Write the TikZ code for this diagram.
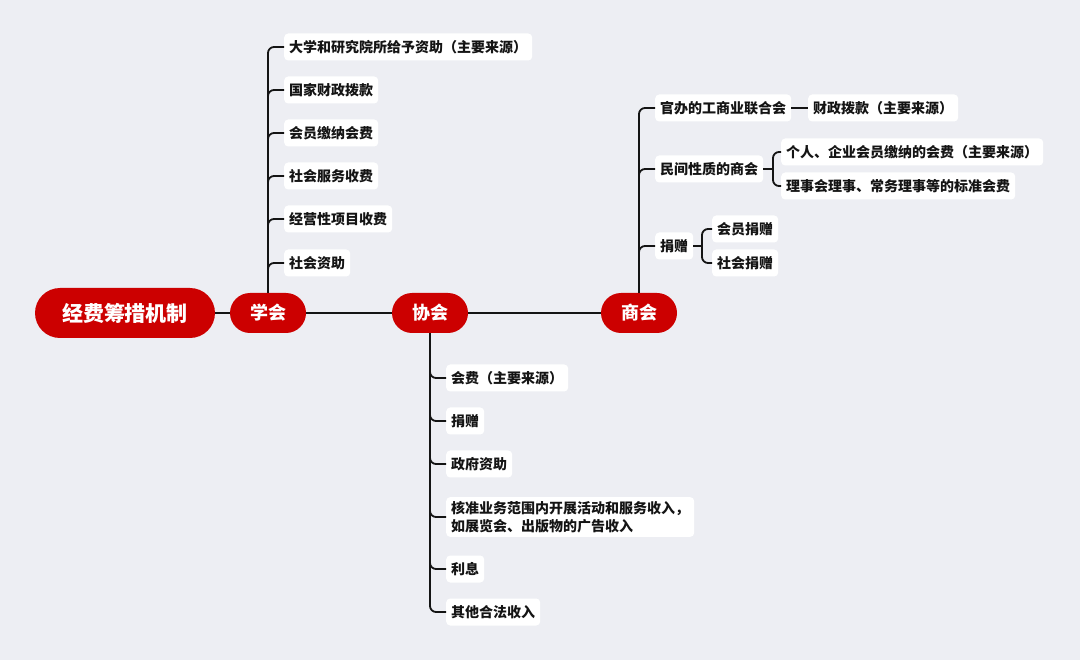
\documentclass[tikz,border=0pt]{standalone}
\usepackage{fontspec}
\setmainfont{Noto Sans CJK SC}
\definecolor{bg}{RGB}{237,238,243}
\definecolor{mainred}{RGB}{204,0,0}
\definecolor{ink}{RGB}{20,20,20}
\begin{document}
\begin{tikzpicture}[x=1pt,y=-1pt,
  rootbox/.style={fill=mainred,text=white,rounded corners=25pt,minimum width=180pt,minimum height=50pt,inner sep=0pt,font=\bfseries\fontsize{21}{24}\selectfont},
  catbox/.style={fill=mainred,text=white,rounded corners=20pt,minimum width=76pt,minimum height=40pt,inner sep=0pt,font=\bfseries\fontsize{18}{21}\selectfont},
  leaf/.style={fill=white,text=ink,rounded corners=4pt,minimum height=27pt,inner xsep=5pt,inner ysep=3pt,anchor=west,font=\bfseries\fontsize{14}{18}\selectfont},
  conn/.style={draw=ink,line width=1.8pt,rounded corners=6pt}]
\useasboundingbox[fill=bg] (0,0) rectangle (1080,660);

% main nodes
\node[rootbox] (root) at (125,313) {经费筹措机制};
\node[catbox] (xue) at (268,313) {学会};
\node[catbox] (xie) at (430,313) {协会};
\node[catbox] (shang) at (639,313) {商会};

\draw[conn] (root) -- (xue);
\draw[conn] (xue) -- (xie);
\draw[conn] (xie) -- (shang);

% 学会 branch
\node[leaf] (x1) at (284,47) {大学和研究院所给予资助（主要来源）};
\node[leaf] (x2) at (284,90) {国家财政拨款};
\node[leaf] (x3) at (284,133) {会员缴纳会费};
\node[leaf] (x4) at (284,176) {社会服务收费};
\node[leaf] (x5) at (284,219) {经营性项目收费};
\node[leaf] (x6) at (284,263) {社会资助};
\foreach \c in {x1,x2,x3,x4,x5,x6}
  \draw[conn] (xue.north) |- (\c.west);

% 协会 branch
\node[leaf] (h1) at (446,378) {会费（主要来源）};
\node[leaf] (h2) at (446,421) {捐赠};
\node[leaf] (h3) at (446,464) {政府资助};
\node[leaf,align=left,inner ysep=4pt] (h4) at (446,517) {核准业务范围内开展活动和服务收入，\\如展览会、出版物的广告收入};
\node[leaf] (h5) at (446,569) {利息};
\node[leaf] (h6) at (446,612) {其他合法收入};
\foreach \c in {h1,h2,h3,h4,h5,h6}
  \draw[conn] (xie.south) |- (\c.west);

% 商会 branch
\node[leaf] (s1) at (655,108) {官办的工商业联合会};
\node[leaf] (s2) at (655,169) {民间性质的商会};
\node[leaf] (s3) at (655,246) {捐赠};
\foreach \c in {s1,s2,s3}
  \draw[conn] (shang.north) |- (\c.west);

\node[leaf] (s11) at (808,108) {财政拨款（主要来源）};
\draw[conn] (s1) -- (s11);

\node[leaf] (s21) at (781,152) {个人、企业会员缴纳的会费（主要来源）};
\node[leaf] (s22) at (781,186) {理事会理事、常务理事等的标准会费};
\coordinate (s2m) at (773,169);
\draw[conn] (s2.east) -- (s2m);
\foreach \c in {s21,s22}
  \draw[conn] (s2m) |- (\c.west);

\node[leaf] (s31) at (712,229) {会员捐赠};
\node[leaf] (s32) at (712,263) {社会捐赠};
\coordinate (s3m) at (702,246);
\draw[conn] (s3.east) -- (s3m);
\foreach \c in {s31,s32}
  \draw[conn] (s3m) |- (\c.west);
\end{tikzpicture}
\end{document}
